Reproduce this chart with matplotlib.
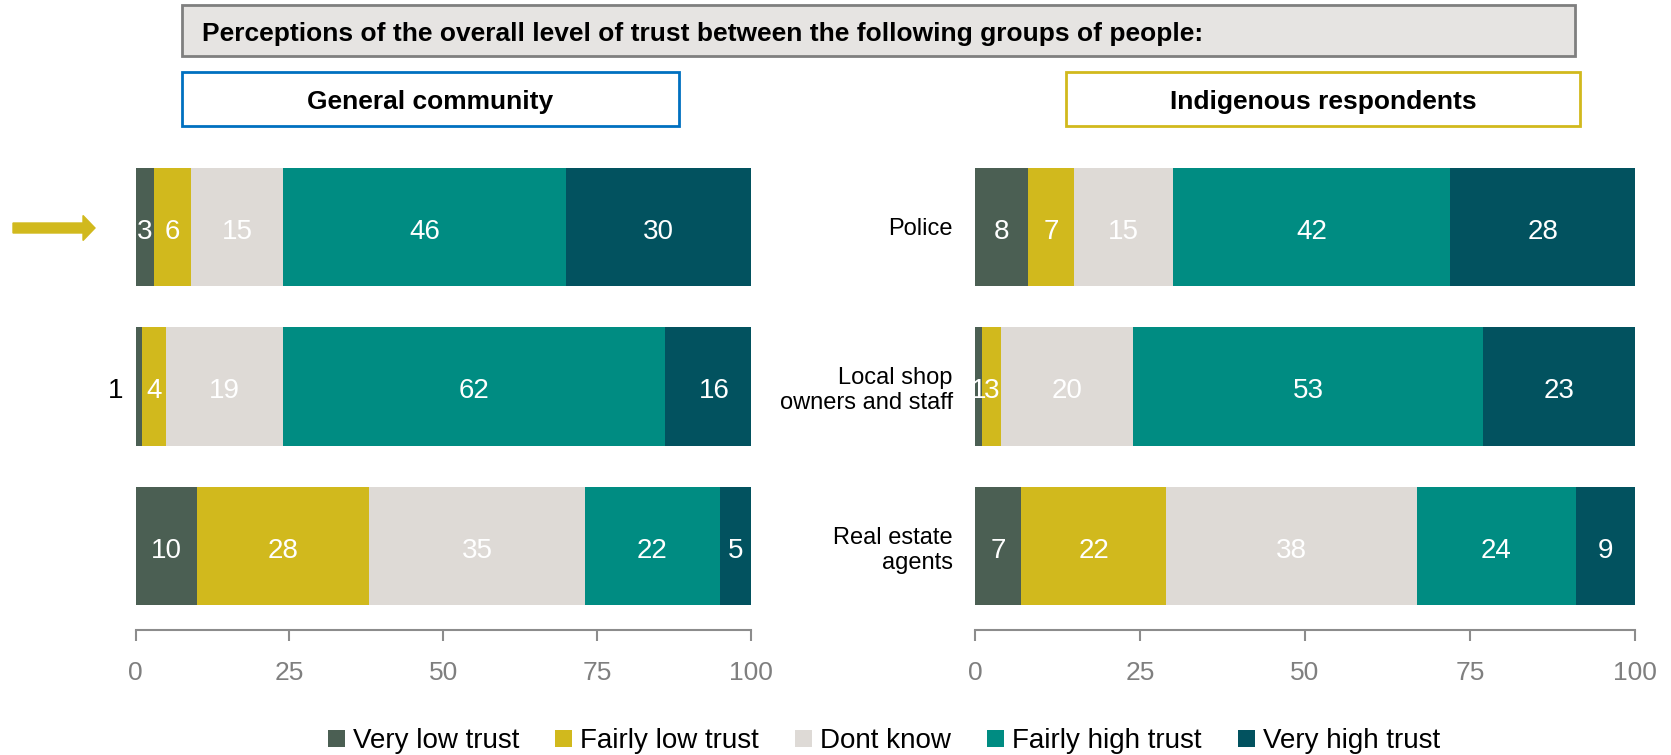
import matplotlib.pyplot as plt
from matplotlib.patches import FancyArrow, Rectangle, Patch
import numpy as np

plt.rcParams['font.family'] = ['Liberation Sans', 'DejaVu Sans']

groups = ["Police", "Local shop\nowners and staff", "Real estate\nagents"]
levels = ["Very low trust", "Fairly low trust", "Dont know", "Fairly high trust", "Very high trust"]
colors = ["#4B5F53", "#D1B91D", "#DEDAD6", "#008C82", "#02525F"]

# rows = groups, columns = trust levels
general = np.array([
    [3, 6, 15, 46, 30],
    [1, 4, 19, 62, 16],
    [10, 28, 35, 22, 5],
])
indigenous = np.array([
    [8, 7, 15, 42, 28],
    [1, 3, 20, 53, 23],
    [7, 22, 38, 24, 9],
])

fig = plt.figure(figsize=(16.71, 7.55), dpi=100)
ax_l = fig.add_axes([0.0811, 0.1709, 0.3683, 0.6344])
ax_r = fig.add_axes([0.5835, 0.1709, 0.3950, 0.6344])


def draw_panel(ax, data, show_labels):
    y = np.arange(len(groups))
    left = np.zeros(len(groups))
    for j in range(len(levels)):
        ax.barh(y, data[:, j], left=left, height=0.74, color=colors[j], edgecolor='none')
        for i in range(len(groups)):
            v = data[i, j]
            cx = left[i] + v / 2
            ax.text(cx, y[i] + 0.03, str(v), ha='center', va='center', color='white', fontsize=20)
        left += data[:, j]
    ax.set_xlim(0, 100)
    ax.set_ylim(2.5, -0.5)
    ax.set_xticks([0, 25, 50, 75, 100])
    ax.tick_params(axis='x', colors='#8C8C8C', labelsize=19, length=8, width=1.5, pad=14,
                   labelcolor='#7F7F7F')
    ax.set_yticks(y)
    if show_labels:
        ax.set_yticklabels(groups, fontsize=17, ha='right')
        ax.tick_params(axis='y', length=0, pad=16)
    else:
        ax.set_yticklabels([])
        ax.tick_params(axis='y', length=0)
    for s in ['top', 'right', 'left']:
        ax.spines[s].set_visible(False)
    ax.spines['bottom'].set_color('#8C8C8C')
    ax.spines['bottom'].set_linewidth(1.5)
    ax.spines['bottom'].set_position(('outward', 3))


draw_panel(ax_l, general, False)
draw_panel(ax_r, indigenous, True)

# small first segment in the left middle bar: label sits outside in black
for t in ax_l.texts:
    if t.get_text() == "1":
        t.set_visible(False)
ax_l.text(-3.3, 1.03, "1", ha='center', va='center', color='black', fontsize=20, clip_on=False)

W, H = 1671, 755


def box(x0, y0, x1, y1, face, edge, text, size, lx=None):
    fig.patches.append(Rectangle((x0 / W, 1 - y1 / H), (x1 - x0) / W, (y1 - y0) / H,
                                 transform=fig.transFigure, facecolor=face, edgecolor=edge,
                                 linewidth=2))
    ty = 1 - ((y0 + y1) / 2 + 3) / H
    if lx is None:
        fig.text((x0 + x1) / 2 / W, ty, text, ha='center', va='center',
                 fontsize=size, fontweight='bold')
    else:
        fig.text(lx / W, ty, text, ha='left', va='center',
                 fontsize=size, fontweight='bold')


box(182, 5, 1575, 56, '#E6E4E2', '#7F7F7F',
    "Perceptions of the overall level of trust between the following groups of people:", 19, lx=202)
box(182, 72, 679, 126, 'white', '#0070C0', "General community", 19)
box(1066, 72, 1580, 126, 'white', '#D1B91D', "Indigenous respondents", 19)

# arrow pointing at the Police row
fig.patches.append(FancyArrow(0.13, (H - 228) / 100, 0.70, 0, width=0.10, head_width=0.25,
                              head_length=0.12, length_includes_head=False,
                              color='#D1B91D', transform=fig.dpi_scale_trans))

handles = [Patch(facecolor=c, edgecolor='none') for c in colors]
fig.legend(handles, levels, loc='center', bbox_to_anchor=(0.529, 0.018), ncol=5, frameon=False,
           fontsize=20, handlelength=0.6, handleheight=0.6, handletextpad=0.3, columnspacing=1.3)

fig.savefig("out.png", dpi=100)
